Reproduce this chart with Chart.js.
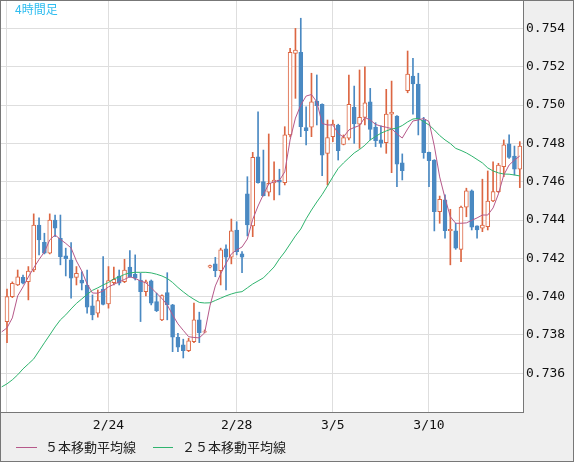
<!DOCTYPE html>
<html>
<head>
<meta charset="utf-8">
<script src="https://cdn.jsdelivr.net/npm/chart.js@4.4.1/dist/chart.umd.min.js"></script>
<style>
html, body { margin: 0; padding: 0; background: #efefef; }
canvas { display: block; }
</style>
</head>
<body>
<canvas id="myChart" width="574" height="462"></canvas>
<script>
// 4-hour candles, index 0..96
var opens = [
  0.73870, 0.74000, 0.74061, 0.74101, 0.74078, 0.74139, 0.74374, 0.74284, 0.74227, 0.74400,
  0.74305, 0.74213, 0.74192, 0.74101, 0.74087, 0.74061, 0.73952, 0.73914, 0.74039, 0.73962,
  0.74073, 0.74108, 0.74078, 0.74154, 0.74117, 0.74087, 0.74026, 0.74082, 0.73974, 0.73879,
  0.74021, 0.73957, 0.73788, 0.73748, 0.73718, 0.73765, 0.73879, 0.73815, 0.74154, 0.74171,
  0.74136, 0.74249, 0.74206, 0.74348, 0.74223, 0.74536, 0.74369, 0.74730, 0.74600, 0.74545,
  0.74593, 0.74609, 0.74595, 0.74844, 0.75270, 0.75275, 0.74882, 0.74884, 0.75021, 0.75004,
  0.74748, 0.74835, 0.74896, 0.74795, 0.74827, 0.74988, 0.74900, 0.74936, 0.75017, 0.74884,
  0.74818, 0.74804, 0.74953, 0.74943, 0.74699, 0.75075, 0.75151, 0.75110, 0.74922, 0.74753,
  0.74713, 0.74444, 0.74505, 0.74344, 0.74343, 0.74247, 0.74467, 0.74552, 0.74369, 0.74357,
  0.74365, 0.74499, 0.74548, 0.74678, 0.74797, 0.74734, 0.74665
]
var highs = [
  0.74039, 0.74077, 0.74139, 0.74113, 0.74157, 0.74432, 0.74411, 0.74331, 0.74432, 0.74426,
  0.74426, 0.74253, 0.74282, 0.74157, 0.74130, 0.74139, 0.74009, 0.74035, 0.74209, 0.74157,
  0.74154, 0.74139, 0.74195, 0.74240, 0.74218, 0.74122, 0.74087, 0.74087, 0.74018, 0.74009,
  0.74125, 0.73960, 0.73809, 0.73778, 0.73783, 0.73966, 0.73919, 0.73826, 0.74165, 0.74205,
  0.74253, 0.74270, 0.74405, 0.74391, 0.74235, 0.74626, 0.74753, 0.74964, 0.74765, 0.74849,
  0.74704, 0.74665, 0.74887, 0.75296, 0.75400, 0.75453, 0.74991, 0.75166, 0.75157, 0.75006,
  0.74922, 0.74922, 0.74900, 0.74844, 0.75157, 0.75099, 0.75183, 0.75200, 0.75087, 0.74908,
  0.74891, 0.75082, 0.75125, 0.74945, 0.74745, 0.75282, 0.75244, 0.75166, 0.74936, 0.74755,
  0.74715, 0.74525, 0.74531, 0.74456, 0.74383, 0.74473, 0.74566, 0.74557, 0.74369, 0.74613,
  0.74656, 0.74704, 0.74696, 0.74818, 0.74844, 0.74786, 0.74809
]
var lows = [
  0.73760, 0.73995, 0.74058, 0.74066, 0.73983, 0.74130, 0.74218, 0.74223, 0.74223, 0.74313,
  0.74166, 0.74108, 0.73992, 0.74061, 0.74035, 0.73914, 0.73879, 0.73893, 0.73957, 0.73940,
  0.74061, 0.74061, 0.74073, 0.74101, 0.74087, 0.73870, 0.74004, 0.73957, 0.73922, 0.73875,
  0.73879, 0.73713, 0.73713, 0.73680, 0.73713, 0.73760, 0.73760, 0.73811, 0.74150, 0.74104,
  0.74061, 0.74035, 0.74171, 0.74218, 0.74125, 0.74317, 0.74313, 0.74592, 0.74525, 0.74525,
  0.74505, 0.74531, 0.74583, 0.74833, 0.75035, 0.74835, 0.74792, 0.74835, 0.74896, 0.74631,
  0.74583, 0.74809, 0.74713, 0.74792, 0.74818, 0.74800, 0.74774, 0.74896, 0.74818, 0.74783,
  0.74780, 0.74748, 0.74647, 0.74574, 0.74609, 0.75064, 0.74953, 0.74844, 0.74722, 0.74574,
  0.74343, 0.74383, 0.74305, 0.74166, 0.74247, 0.74183, 0.74417, 0.74348, 0.74305, 0.74339,
  0.74348, 0.74496, 0.74543, 0.74626, 0.74722, 0.74635, 0.74569
]
var closes = [
  0.74000, 0.74070, 0.74104, 0.74070, 0.74134, 0.74374, 0.74296, 0.74227, 0.74400, 0.74357,
  0.74209, 0.74198, 0.74096, 0.74122, 0.74070, 0.73945, 0.73905, 0.73979, 0.73960, 0.74084,
  0.74091, 0.74070, 0.74139, 0.74104, 0.74096, 0.74026, 0.74078, 0.73966, 0.73927, 0.74005,
  0.73957, 0.73788, 0.73736, 0.73718, 0.73769, 0.73879, 0.73812, 0.73818, 0.74162, 0.74136,
  0.74244, 0.74206, 0.74343, 0.74235, 0.74206, 0.74374, 0.74727, 0.74595, 0.74527, 0.74592,
  0.74609, 0.74597, 0.74844, 0.75275, 0.75287, 0.74887, 0.74866, 0.75017, 0.74997, 0.74739,
  0.74830, 0.74900, 0.74762, 0.74830, 0.75004, 0.74901, 0.74936, 0.75012, 0.74873, 0.74814,
  0.74800, 0.74953, 0.74962, 0.74692, 0.74657, 0.75162, 0.75110, 0.74926, 0.74751, 0.74710,
  0.74444, 0.74508, 0.74344, 0.74352, 0.74253, 0.74467, 0.74552, 0.74362, 0.74348, 0.74374,
  0.74499, 0.74548, 0.74687, 0.74792, 0.74727, 0.74665, 0.74786
]
// moving averages, starting one bar before index 0
var ma5 = [
  0.73816,
  0.73837, 0.73889, 0.74004, 0.74051, 0.74103, 0.74150, 0.74194, 0.74233, 0.74296, 0.74322,
  0.74299, 0.74278, 0.74254, 0.74186, 0.74134, 0.74066, 0.74019, 0.74018, 0.74030, 0.74051,
  0.74064, 0.74077, 0.74090, 0.74104, 0.74095, 0.74082, 0.74072, 0.74046, 0.74018, 0.73991,
  0.73957, 0.73905, 0.73858, 0.73824, 0.73791, 0.73787, 0.73785, 0.73811, 0.73952, 0.74056,
  0.74119, 0.74173, 0.74223, 0.74244, 0.74259, 0.74301, 0.74403, 0.74473, 0.74533, 0.74588,
  0.74600, 0.74607, 0.74651, 0.74818, 0.74932, 0.75000, 0.75047, 0.75055, 0.75016, 0.74904,
  0.74896, 0.74896, 0.74852, 0.74833, 0.74870, 0.74883, 0.74893, 0.74935, 0.74922, 0.74899,
  0.74890, 0.74884, 0.74877, 0.74849, 0.74828, 0.74875, 0.74917, 0.74922, 0.74930, 0.74914,
  0.74786, 0.74625, 0.74515, 0.74417, 0.74383, 0.74383, 0.74385, 0.74398, 0.74411, 0.74426,
  0.74426, 0.74463, 0.74536, 0.74635, 0.74687, 0.74713, 0.74734
]
var ma25 = [
  0.73529,
  0.73545, 0.73566, 0.73592, 0.73623, 0.73649, 0.73675, 0.73717, 0.73759, 0.73800, 0.73842,
  0.73879, 0.73905, 0.73936, 0.73965, 0.73988, 0.74012, 0.74033, 0.74046, 0.74061, 0.74074,
  0.74093, 0.74103, 0.74116, 0.74124, 0.74127, 0.74127, 0.74127, 0.74124, 0.74117, 0.74108,
  0.74095, 0.74074, 0.74048, 0.74025, 0.74004, 0.73986, 0.73970, 0.73967, 0.73968, 0.73980,
  0.73992, 0.74004, 0.74014, 0.74022, 0.74026, 0.74046, 0.74066, 0.74082, 0.74098, 0.74126,
  0.74155, 0.74197, 0.74233, 0.74275, 0.74317, 0.74353, 0.74406, 0.74452, 0.74494, 0.74533,
  0.74578, 0.74625, 0.74669, 0.74698, 0.74724, 0.74750, 0.74768, 0.74790, 0.74818, 0.74836,
  0.74853, 0.74865, 0.74875, 0.74880, 0.74893, 0.74912, 0.74927, 0.74930, 0.74914, 0.74896,
  0.74870, 0.74841, 0.74818, 0.74799, 0.74774, 0.74763, 0.74750, 0.74734, 0.74716, 0.74698,
  0.74672, 0.74656, 0.74646, 0.74640, 0.74639, 0.74635, 0.74630
]
var tickIndex = [0, 19, 43, 61, 79]
var tickLabels = ['', '2/24', '2/28', '3/5', '3/10']
var priceTicks = [0.736, 0.738, 0.740, 0.742, 0.744, 0.746, 0.748, 0.750, 0.752, 0.754]
var legendLabels = ['５本移動平均線', '２５本移動平均線']

var UP = '#dc6642'
var DOWN = '#4a89c2'
var MA5_COLOR = '#b6598a'
var MA25_COLOR = '#2fb46e'
var tickFont = { family: 'DejaVu Sans Mono', size: 13 }

var isUp = opens.map(function (o, i) { return closes[i] >= o })

var frame = {
    id: 'frame',
    beforeDraw: function (chart) {
        var c = chart.ctx, a = chart.chartArea
        c.save()
        c.fillStyle = '#efefef'
        c.fillRect(0, 0, chart.width, chart.height)
        c.fillStyle = '#ffffff'
        c.fillRect(a.left, a.top, a.right - a.left, a.bottom - a.top)
        c.restore()
    },
    afterDraw: function (chart) {
        var c = chart.ctx, a = chart.chartArea
        c.save()
        c.strokeStyle = '#777777'
        c.lineWidth = 1
        c.strokeRect(0.5, 0.5, a.right, a.bottom)
        c.strokeRect(0.5, 0.5, chart.width - 1, chart.height - 1)

        // title inside the plot
        c.fillStyle = '#2fbdf0'
        c.font = '12px "Noto Sans CJK JP"'
        c.textBaseline = 'top'
        c.fillText('4時間足', 15, 3)

        // legend
        var items = [
            { x: 16, w: 21, tx: 45, color: MA5_COLOR, text: legendLabels[0] },
            { x: 153, w: 20, tx: 182, color: MA25_COLOR, text: legendLabels[1] }
        ]
        c.font = '13px "Noto Sans CJK JP"'
        c.textBaseline = 'middle'
        items.forEach(function (it) {
            c.strokeStyle = it.color
            c.beginPath()
            c.moveTo(it.x, 447.5)
            c.lineTo(it.x + it.w, 447.5)
            c.stroke()
            c.fillStyle = '#222222'
            c.fillText(it.text, it.tx, 447)
        })
        c.restore()
    }
}

var ctx = document.getElementById('myChart').getContext('2d')
var myChart = new Chart(ctx, {
    type: 'bar',
    data: {
        datasets: [{
            type: 'line',
            label: legendLabels[0],
            data: ma5.map(function (v, k) { return { x: k - 1, y: v } }),
            borderColor: MA5_COLOR,
            borderWidth: 1,
            pointRadius: 0,
            tension: 0,
            order: 0
        }, {
            type: 'line',
            label: legendLabels[1],
            data: ma25.map(function (v, k) { return { x: k - 1, y: v } }),
            borderColor: MA25_COLOR,
            borderWidth: 1,
            pointRadius: 0,
            tension: 0,
            order: 0
        }, {
            label: 'body',
            data: opens.map(function (o, i) { return { x: i, y: [o, closes[i]] } }),
            backgroundColor: isUp.map(function (u) { return u ? '#ffffff' : DOWN }),
            borderColor: isUp.map(function (u) { return u ? UP : DOWN }),
            borderWidth: 1,
            borderSkipped: false,
            barThickness: 4,
            grouped: false,
            order: 1
        }, {
            label: 'wick',
            data: lows.map(function (l, i) { return { x: i, y: [l, highs[i]] } }),
            backgroundColor: isUp.map(function (u) { return u ? UP : DOWN }),
            borderWidth: 0,
            barThickness: 1,
            grouped: false,
            order: 2
        }]
    },
    options: {
        responsive: false,
        animation: false,
        devicePixelRatio: 1,
        layout: { padding: { left: 1, top: 1, right: 1, bottom: 1 } },
        plugins: {
            legend: { display: false },
            tooltip: { enabled: false }
        },
        scales: {
            x: {
                type: 'linear',
                offset: false,
                min: -1.123,
                max: 96.6,
                afterBuildTicks: function (s) {
                    s.ticks = tickIndex.map(function (v) { return { value: v } })
                },
                afterFit: function (s) {
                    s.height = 49
                    s.paddingLeft = 0
                    s.paddingRight = 0
                },
                ticks: {
                    autoSkip: false,
                    maxRotation: 0,
                    padding: 6,
                    color: '#111111',
                    font: tickFont,
                    callback: function (v) { return tickLabels[tickIndex.indexOf(v)] }
                },
                grid: { color: '#dedede', lineWidth: 1, drawTicks: false, offset: false },
                border: { display: false }
            },
            y: {
                position: 'right',
                min: 0.73398,
                max: 0.75543,
                afterBuildTicks: function (s) {
                    s.ticks = priceTicks.map(function (v) { return { value: v } })
                },
                afterFit: function (s) {
                    s.width = 50
                    s.paddingTop = 0
                    s.paddingBottom = 0
                },
                ticks: {
                    padding: 3,
                    color: '#111111',
                    font: tickFont,
                    callback: function (v) { return v.toFixed(3) }
                },
                grid: { color: '#dedede', lineWidth: 1, drawTicks: false },
                border: { display: false }
            }
        }
    },
    plugins: [frame]
})
</script>
</body>
</html>
